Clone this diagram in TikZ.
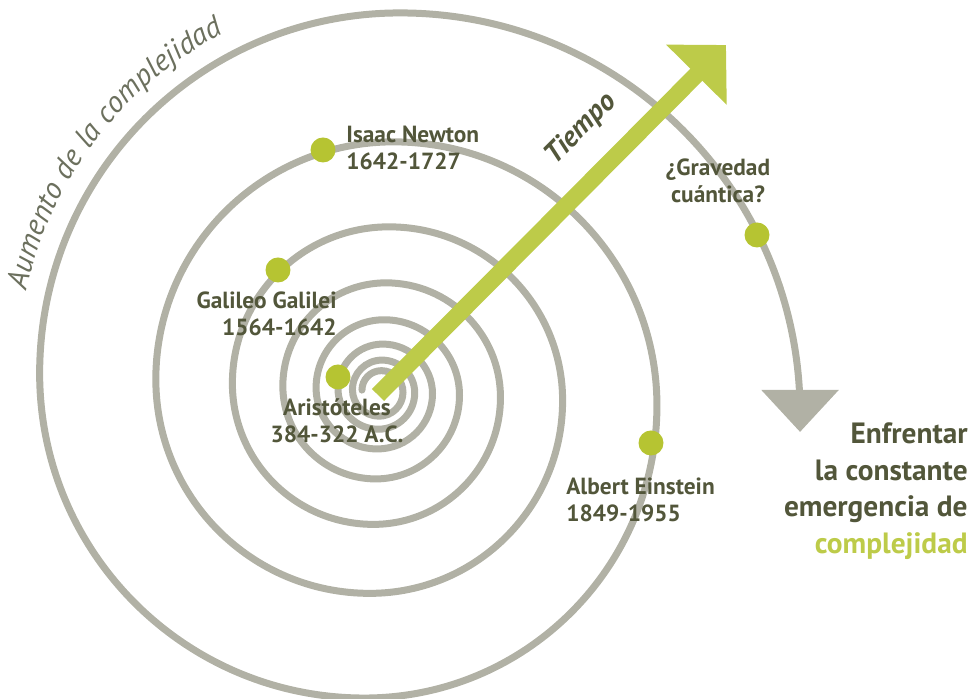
\documentclass[tikz,border=0pt]{standalone}
\usepackage{fontspec}
\setmainfont{PT Sans}
\usepackage{tikz}
\usetikzlibrary{arrows.meta, decorations.text}

\definecolor{ringgray}{RGB}{177,177,165}
\definecolor{lime}{RGB}{189,203,73}
\definecolor{dotlime}{RGB}{182,196,50}
\definecolor{olive}{RGB}{82,86,58}
\definecolor{softolive}{RGB}{108,112,94}

\begin{document}
\begin{tikzpicture}[x=0.02cm, y=0.02cm]
  \tikzstyle{milestone}=[circle, fill=dotlime, minimum size=0.5cm, inner sep=0]
  \tikzstyle{who}=[text=olive, font=\bfseries\fontsize{13.3}{15.4}\selectfont, inner sep=0]

  \pgfmathsetmacro{\q}{0.901}
  \pgfmathsetmacro{\rmax}{400}
  \pgfmathtruncatemacro{\n}{29}

  \useasboundingbox (0,0) rectangle (975,699);

  % spiral: quarter arcs, each one larger than the last
  \draw[ringgray, line width=0.14cm, line cap=round, -{Triangle[width=1.52cm, length=0.84cm]}]
    (361.96,308.88) \foreach \i in {0,...,\n} {
      arc[start angle={180-90*\i}, end angle={90-90*\i}, radius={\rmax*\q^(\n-\i)}]
    } -- ++(0,-19);

  % time arrow
  \coordinate (origin) at (378,304);
  \coordinate (future) at (726,654);
  \draw[lime, line width=0.34cm, -{Triangle[width=1.66cm, length=0.84cm]}] (origin) -- (future);
  \node (tiempo) [text=olive, font=\bfseries\itshape\fontsize{16.5}{18}\selectfont, rotate=45] at (581,570) {Tiempo};

  % text along the outer ring
  \path[decorate, decoration={text along path, text align=left,
      text={|\itshape\fontsize{17.2}{19}\selectfont\color{softolive}|Aumento de la complejidad}}]
    (400,325.6) ++(167.5:383) arc[start angle=167.5, end angle=112, radius=383];

  \node (newton dot) [milestone] at (323,549) {};
  \node (galileo dot) [milestone] at (278,429) {};
  \node (aristotle dot) [milestone] at (338,322) {};
  \node (einstein dot) [milestone] at (651,256) {};
  \node (quantum dot) [milestone] at (757,464) {};

  \node (newton) [who, anchor=west, align=left] at (346,551) {Isaac Newton\\1642-1727};
  \node (galileo) [who, anchor=east, align=right] at (337,385) {Galileo Galilei\\1564-1642};
  \node (aristotle) [who, align=center] at (337,278) {Aristóteles\\384-322 A.C.};
  \node (einstein) [who, anchor=west, align=left] at (566,199) {Albert Einstein\\1849-1955};
  \node (quantum) [who, align=center] at (718,518) {¿Gravedad\\cuántica?};

  \node (goal) [text=olive, font=\bfseries\fontsize{16.7}{20.8}\selectfont, inner sep=0, anchor=east, align=right]
    at (968,208) {Enfrentar\\la constante\\emergencia de\\\textcolor{lime}{complejidad}};
\end{tikzpicture}
\end{document}
